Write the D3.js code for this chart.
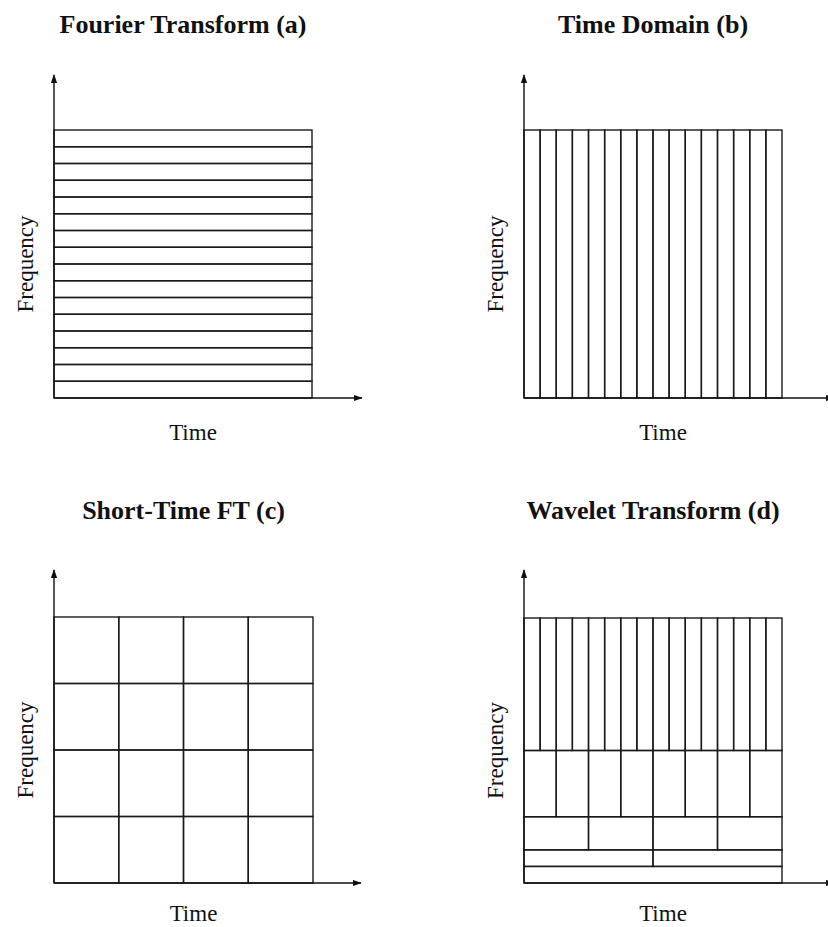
<!DOCTYPE html>
<html>
<head>
<meta charset="utf-8">
<script src="https://cdn.jsdelivr.net/npm/d3@7"></script>
<style>
  body { margin: 0; background: #fff; }
  svg { display: block; }
  text { font-family: "Liberation Serif", "Times New Roman", serif; fill: #111; }
</style>
</head>
<body>
<svg width="828" height="927"></svg>
<script>
// titles of the four panels
const titles = ["Fourier Transform (a)", "Time Domain (b)", "Short-Time FT (c)", "Wavelet Transform (d)"];
const xLabel = "Time";
const yLabel = "Frequency";

// how the time-frequency plane is cut in each panel
// each band: share of frequency range (bottom to top) and number of time cells
const fourierBands = Array(16).fill(1 / 16).map(h => ({ h, cols: 1 }));
const timeBands = [{ h: 1, cols: 16 }];
const stftBands = Array(4).fill(1 / 4).map(h => ({ h, cols: 4 }));
const waveletHeights = [1 / 16, 1 / 16, 1 / 8, 1 / 4, 1 / 2];
const waveletCols = [1, 2, 4, 8, 16];
const waveletBands = waveletHeights.map((h, i) => ({ h, cols: waveletCols[i] }));

const panels = [
  { title: titles[0], bands: fourierBands, box: [54, 130, 312, 398], arrowTop: 75, arrowRight: 362, titleY: 33, labelY: 440 },
  { title: titles[1], bands: timeBands, box: [524, 130, 782, 398], arrowTop: 75, arrowRight: 834, titleY: 33, labelY: 440 },
  { title: titles[2], bands: stftBands, box: [54, 617, 313, 883], arrowTop: 570, arrowRight: 361, titleY: 519, labelY: 921 },
  { title: titles[3], bands: waveletBands, box: [524, 618, 782, 883], arrowTop: 570, arrowRight: 834, titleY: 519, labelY: 921 }
];

const svg = d3.select("svg");

svg.append("defs").append("marker")
  .attr("id", "arrow")
  .attr("viewBox", "0 0 10 10")
  .attr("refX", 9).attr("refY", 5)
  .attr("markerWidth", 9).attr("markerHeight", 9)
  .attr("markerUnits", "userSpaceOnUse")
  .attr("orient", "auto")
  .append("path")
  .attr("d", "M0,1.5L10,5L0,8.5Z")
  .attr("fill", "#111");

const drawPanel = (p) => {
  const [x0, y0, x1, y1] = p.box;
  const x = d3.scaleLinear().domain([0, 1]).range([x0, x1]);
  const y = d3.scaleLinear().domain([0, 1]).range([y1, y0]);
  const g = svg.append("g");

  // tiles
  const tiles = [];
  let f = 0;
  p.bands.forEach(b => {
    for (let c = 0; c < b.cols; c++) {
      tiles.push({ t0: c / b.cols, t1: (c + 1) / b.cols, f0: f, f1: f + b.h });
    }
    f += b.h;
  });

  g.selectAll("rect").data(tiles).join("rect")
    .attr("x", d => x(d.t0))
    .attr("y", d => y(d.f1))
    .attr("width", d => x(d.t1) - x(d.t0))
    .attr("height", d => y(d.f0) - y(d.f1))
    .attr("fill", "none")
    .attr("stroke", "#1a1a1a")
    .attr("stroke-width", 1.4);

  // axes with arrows
  g.append("line")
    .attr("x1", x0).attr("y1", y1).attr("x2", x0).attr("y2", p.arrowTop)
    .attr("stroke", "#111").attr("stroke-width", 1.4)
    .attr("marker-end", "url(#arrow)");
  g.append("line")
    .attr("x1", x0).attr("y1", y1).attr("x2", p.arrowRight).attr("y2", y1)
    .attr("stroke", "#111").attr("stroke-width", 1.4)
    .attr("marker-end", "url(#arrow)");

  // texts
  g.append("text")
    .attr("x", (x0 + x1) / 2)
    .attr("y", p.titleY)
    .attr("text-anchor", "middle")
    .attr("font-weight", "bold")
    .attr("font-size", 26)
    .text(p.title);

  g.append("text")
    .attr("x", (x0 + x1) / 2 + 10)
    .attr("y", p.labelY)
    .attr("text-anchor", "middle")
    .attr("font-size", 23)
    .text(xLabel);

  g.append("text")
    .attr("transform", `translate(${x0 - 21},${(y0 + y1) / 2}) rotate(-90)`)
    .attr("text-anchor", "middle")
    .attr("font-size", 23)
    .text(yLabel);
};

panels.forEach(drawPanel);
</script>
</body>
</html>
